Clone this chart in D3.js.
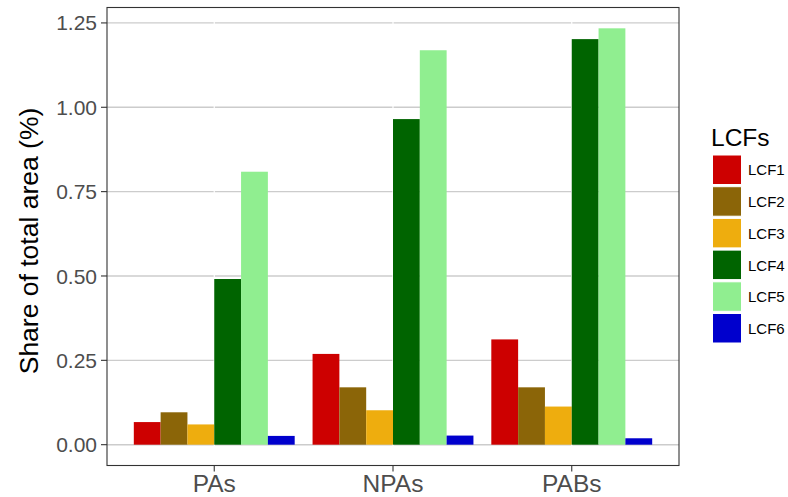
<!DOCTYPE html>
<html><head><meta charset="utf-8">
<script src="https://cdn.jsdelivr.net/npm/d3@7/dist/d3.min.js"></script>
<style>body{margin:0;background:#fff}svg{display:block;font-family:"Liberation Sans",Arial,sans-serif}</style>
</head><body><svg id="c" width="788" height="497"></svg>
<script>
const categories = ["PAs", "NPAs", "PABs"];
const series = ["LCF1", "LCF2", "LCF3", "LCF4", "LCF5", "LCF6"];
const colors = ["#CD0000", "#8B6508", "#EEAD0E", "#006400", "#90EE90", "#0000CD"];
const LCF1 = [0.067, 0.269, 0.312];
const LCF2 = [0.096, 0.170, 0.170];
const LCF3 = [0.060, 0.102, 0.113];
const LCF4 = [0.491, 0.965, 1.202];
const LCF5 = [0.809, 1.169, 1.234];
const LCF6 = [0.026, 0.027, 0.019];
const yTicks = [0, 0.25, 0.5, 0.75, 1.0, 1.25];
const values = [LCF1, LCF2, LCF3, LCF4, LCF5, LCF6];

const svg = d3.select("#c");
const L = 107, R = 679, T = 7.5, B = 465.5;
const maxV = d3.max(values.flat());
const y = d3.scaleLinear().domain([-0.05*maxV, maxV*1.05]).range([B, T]);
// ggplot discrete: expansion 0.6 units each side
const x = d3.scalePoint().domain(categories)
  .range([L + (R-L)*0.6/3.2, R - (R-L)*0.6/3.2]);
const unit = x.step();
const xs = d3.scaleBand().domain(series).range([-0.45*unit, 0.45*unit]);

// grid
svg.append("g").selectAll("line").data(yTicks).join("line")
  .attr("x1", L).attr("x2", R).attr("y1", d=>y(d)).attr("y2", d=>y(d))
  .attr("stroke", "#cccccc").attr("stroke-width", 1.4);
svg.append("g").selectAll("line").data(categories).join("line")
  .attr("x1", d=>x(d)).attr("x2", d=>x(d)).attr("y1", T).attr("y2", B)
  .attr("stroke", "#ffffff").attr("stroke-width", 1.2);

// bars
series.forEach((s, i) => {
  svg.append("g").selectAll("rect").data(categories).join("rect")
    .attr("x", (c) => x(c) + xs(s))
    .attr("width", xs.bandwidth())
    .attr("y", (c, j) => y(values[i][j]))
    .attr("height", (c, j) => y(0) - y(values[i][j]))
    .attr("fill", colors[i]);
});

// border
svg.append("rect").attr("x", L).attr("y", T).attr("width", R-L).attr("height", B-T)
  .attr("fill", "none").attr("stroke", "#333333").attr("stroke-width", 1.1);

// y axis
const ya = svg.append("g");
ya.selectAll("line").data(yTicks).join("line")
  .attr("x1", L-6).attr("x2", L).attr("y1", d=>y(d)).attr("y2", d=>y(d))
  .attr("stroke", "#333333").attr("stroke-width", 1.1);
ya.selectAll("text").data(yTicks).join("text")
  .attr("x", L-10).attr("y", d=>y(d)).attr("dy", "0.36em")
  .attr("text-anchor", "end").attr("fill", "#4d4d4d").attr("font-size", 21)
  .text(d => d3.format(".2f")(d));
// x axis
const xa = svg.append("g");
xa.selectAll("line").data(categories).join("line")
  .attr("x1", d=>x(d)).attr("x2", d=>x(d)).attr("y1", B).attr("y2", B+6)
  .attr("stroke", "#333333").attr("stroke-width", 1.1);
xa.selectAll("text").data(categories).join("text")
  .attr("x", d=>x(d)).attr("y", 492).attr("text-anchor", "middle")
  .attr("fill", "#4d4d4d").attr("font-size", 24.5).text(d=>d);

svg.append("text").attr("transform", `translate(38,241) rotate(-90)`)
  .attr("text-anchor", "middle").attr("font-size", 26.5).attr("fill", "#000")
  .text("Share of total area (%)");

// legend
const lg = svg.append("g");
lg.append("text").attr("x", 711).attr("y", 146).attr("font-size", 24.5).attr("fill", "#000").text("LCFs");
series.forEach((s, i) => {
  const yy = 155 + i*31.7;
  lg.append("rect").attr("x", 712.5).attr("y", yy).attr("width", 29).attr("height", 29.5)
    .attr("fill", colors[i]).attr("stroke", "#fff").attr("stroke-width", 1);
  lg.append("text").attr("x", 748).attr("y", yy+15).attr("dy", "0.36em")
    .attr("font-size", 15).attr("fill", "#000").text(s);
});
</script></body></html>
